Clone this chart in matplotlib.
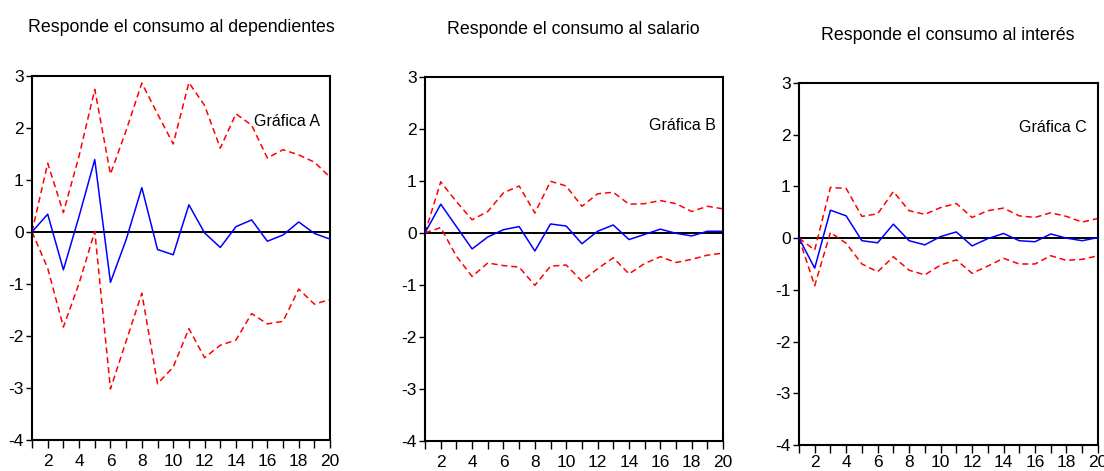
import numpy as np
import matplotlib
matplotlib.use("Agg")
import matplotlib.pyplot as plt

plt.rcParams['font.family'] = ['Liberation Sans', 'DejaVu Sans']
plt.rcParams['axes.unicode_minus'] = False

periodos = list(range(1, 21))

# Gráfica A: respuesta del consumo a dependientes
resp_a = [0, 0.34, -0.73, 0.3, 1.39, -0.97, -0.15, 0.85, -0.34, -0.44,
          0.52, -0.02, -0.30, 0.10, 0.23, -0.18, -0.06, 0.19, -0.03, -0.14]
sup_a = [0, 1.32, 0.37, 1.46, 2.74, 1.11, 1.95, 2.86, 2.27, 1.69,
         2.87, 2.43, 1.61, 2.27, 2.05, 1.42, 1.58, 1.48, 1.34, 1.05]
inf_a = [0, -0.70, -1.83, -0.99, 0.01, -3.02, -2.10, -1.18, -2.92, -2.60,
         -1.86, -2.42, -2.18, -2.08, -1.57, -1.77, -1.72, -1.10, -1.39, -1.30]

# Gráfica B: respuesta del consumo al salario
resp_b = [0, 0.55, 0.12, -0.31, -0.08, 0.06, 0.12, -0.35, 0.17, 0.13,
          -0.21, 0.03, 0.15, -0.13, -0.03, 0.07, -0.01, -0.06, 0.03, 0.03]
sup_b = [0, 0.98, 0.60, 0.25, 0.41, 0.77, 0.90, 0.38, 0.99, 0.90,
         0.51, 0.75, 0.78, 0.55, 0.56, 0.62, 0.56, 0.41, 0.51, 0.46]
inf_b = [0, 0.10, -0.45, -0.84, -0.58, -0.63, -0.66, -1.01, -0.64, -0.62,
         -0.93, -0.69, -0.48, -0.79, -0.59, -0.46, -0.57, -0.51, -0.43, -0.39]

# Gráfica C: respuesta del consumo al interés
resp_c = [0, -0.58, 0.54, 0.43, -0.05, -0.09, 0.27, -0.05, -0.13, 0.03,
          0.12, -0.15, -0.01, 0.09, -0.05, -0.07, 0.08, 0.0, -0.05, 0.01]
sup_c = [0, -0.23, 0.98, 0.96, 0.42, 0.47, 0.90, 0.53, 0.46, 0.59,
         0.67, 0.40, 0.53, 0.58, 0.43, 0.40, 0.49, 0.42, 0.31, 0.38]
inf_c = [0, -0.92, 0.11, -0.10, -0.50, -0.65, -0.36, -0.62, -0.71, -0.52,
         -0.42, -0.68, -0.54, -0.39, -0.50, -0.50, -0.34, -0.43, -0.41, -0.34]

titulos = ["Responde el consumo al dependientes",
           "Responde el consumo al salario",
           "Responde el consumo al interés"]
etiquetas = ["Gráfica A", "Gráfica B", "Gráfica C"]

fig = plt.figure(figsize=(11.04, 4.71), dpi=100)

# posiciones de cada panel (en fracción de figura)
paneles = [
    dict(rect=[0.029, 0.066, 0.270, 0.773], titulo=(181, 28), etq=(0.855, 0.874), pad=4),
    dict(rect=[0.385, 0.064, 0.270, 0.773], titulo=(573, 30), etq=(0.862, 0.865), pad=4),
    dict(rect=[0.7237, 0.055, 0.2708, 0.769], titulo=(948, 35), etq=(0.85, 0.876), pad=1),
]
datos = [(resp_a, sup_a, inf_a), (resp_b, sup_b, inf_b), (resp_c, sup_c, inf_c)]

for i, p in enumerate(paneles):
    ax = fig.add_axes(p['rect'])
    resp, sup, inf = datos[i]
    ax.axhline(0, color='black', lw=1.4, zorder=1)
    ax.plot(periodos, sup, color='red', lw=1.1, ls=(0, (4, 2.5)), zorder=2)
    ax.plot(periodos, inf, color='red', lw=1.1, ls=(0, (4, 2.5)), zorder=2)
    ax.plot(periodos, resp, color='blue', lw=1.1, zorder=3)
    ax.set_xlim(1, 20)
    ax.set_ylim(-4, 3)
    ax.set_xticks(periodos)
    ax.set_xticklabels([str(t) if t % 2 == 0 else '' for t in periodos])
    ax.set_yticks(range(-4, 4))
    ax.tick_params(axis='x', length=6, width=1, labelsize=12.5, pad=p['pad'])
    ax.tick_params(axis='y', length=4, width=1, labelsize=12.5, pad=2)
    for s in ax.spines.values():
        s.set_linewidth(1.5)
    ax.text(p['etq'][0], p['etq'][1], etiquetas[i], transform=ax.transAxes,
            ha='center', va='center', fontsize=11.5)
    fig.text(p['titulo'][0] / 1104, 1 - p['titulo'][1] / 471, titulos[i],
             ha='center', va='center', fontsize=12.8)

fig.savefig("out.png", dpi=100)
